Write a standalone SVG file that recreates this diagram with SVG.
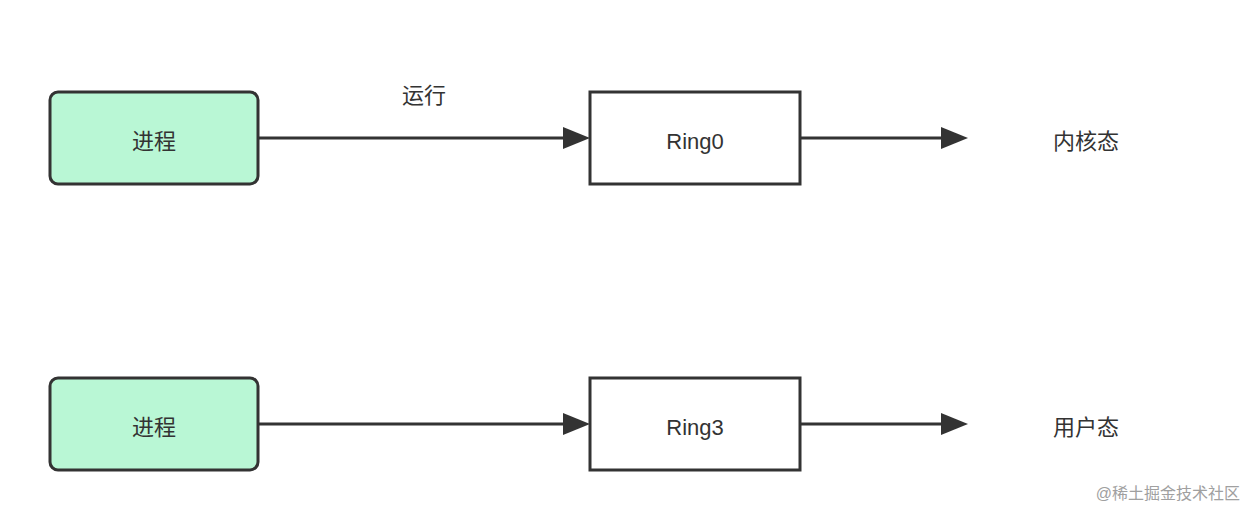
<svg xmlns="http://www.w3.org/2000/svg" width="1256" height="520" viewBox="0 0 1256 520">
<defs>
<style>
.p{fill:#b9f7d5;stroke:#333;stroke-width:3}
.r{fill:#fff;stroke:#333;stroke-width:3}
.t{font-family:"Liberation Sans","Noto Sans CJK SC",sans-serif;font-size:22px;fill:#333;text-anchor:middle;dominant-baseline:central}
.l{stroke:#333;stroke-width:3;fill:none}
</style>
<marker id="a" viewBox="0 0 10 10" refX="10" refY="5" markerWidth="10" markerHeight="7" markerUnits="userSpaceOnUse" orient="auto"><path d="M0,0L10,5L0,10z" fill="#333"/></marker>
</defs>
<rect width="1256" height="520" fill="#fff"/>
<g id="connectors">
<path class="l" d="M258,138H565"/><path d="M563,127L590,138L563,149z" fill="#333"/>
<path class="l" d="M800,138H943"/><path d="M941,127L968,138L941,149z" fill="#333"/>
<path class="l" d="M258,424H565"/><path d="M563,413L590,424L563,435z" fill="#333"/>
<path class="l" d="M800,424H943"/><path d="M941,413L968,424L941,435z" fill="#333"/>
<text class="t" x="424" y="95">运行</text>
</g>
<g id="p1"><rect class="p" x="50" y="92" width="208" height="92" rx="8"/><text class="t" x="154" y="141">进程</text></g>
<g id="ring0"><rect class="r" x="590" y="92" width="210" height="92"/><text class="t" x="695" y="141">Ring0</text></g>
<g id="kernel"><text class="t" x="1086" y="141">内核态</text></g>
<g id="p2"><rect class="p" x="50" y="378" width="208" height="92" rx="8"/><text class="t" x="154" y="427">进程</text></g>
<g id="ring3"><rect class="r" x="590" y="378" width="210" height="92"/><text class="t" x="695" y="427">Ring3</text></g>
<g id="user"><text class="t" x="1086" y="427">用户态</text></g>
<text x="1240" y="493" font-family="Liberation Sans,'Noto Sans CJK SC',sans-serif" font-size="16" fill="#a0a0a0" text-anchor="end" dominant-baseline="central">@稀土掘金技术社区</text>
</svg>
